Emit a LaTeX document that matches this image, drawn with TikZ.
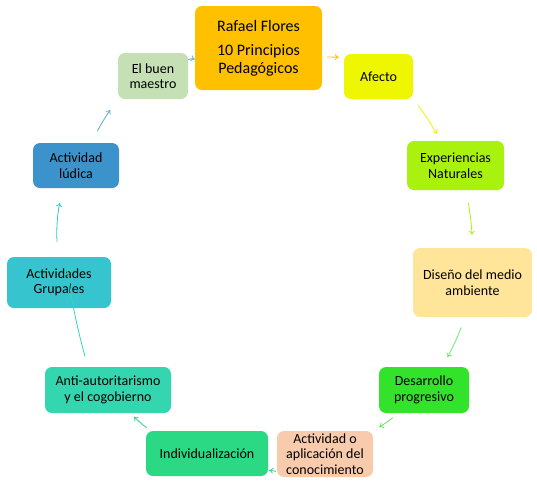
\documentclass[tikz,border=0pt]{standalone}
\usepackage{fontspec}
\setmainfont{Carlito}
\usepackage{tikz}
\usetikzlibrary{arrows.meta, positioning}

\definecolor{cRafael}{RGB}{255,192,0}
\definecolor{cMaestro}{RGB}{197,224,180}
\definecolor{cAfecto}{RGB}{238,246,0}
\definecolor{cExper}{RGB}{169,242,15}
\definecolor{cDiseno}{RGB}{255,229,154}
\definecolor{cDesarrollo}{RGB}{51,226,43}
\definecolor{cAplic}{RGB}{248,203,173}
\definecolor{cIndiv}{RGB}{43,217,133}
\definecolor{cAnti}{RGB}{51,214,174}
\definecolor{cGrupal}{RGB}{54,197,206}
\definecolor{cLudica}{RGB}{60,146,202}

\begin{document}
\begin{tikzpicture}[x=1pt, y=-1pt,
            paso/.style={rounded corners=7pt, align=center, inner sep=2pt,
                    font=\fontsize{14}{15.5}\selectfont, text=black},
            arr/.style={-{To[length=4pt, width=6pt]}, line width=0.8pt},
            arrc/.style={arr, shorten >=#1, shorten <=#1}
        ]
        \useasboundingbox (0,0) rectangle (537,480);

        % ---------------------------------------------------------------
        % NODES
        % ---------------------------------------------------------------

        % Center title
        \node[paso, fill=cRafael, minimum width=127pt, minimum height=84pt,
              font=\fontsize{16}{18}\selectfont] (rafael) at (258.5,48)
            {Rafael Flores\\[6pt]10 Principios\\Pedagógicos};

        % Right side
        \node[paso, fill=cAfecto, minimum width=69pt, minimum height=45pt] (afecto) at (378.5,76.5) {Afecto};
        \node[paso, fill=cExper, minimum width=97pt, minimum height=49pt] (exper) at (455.5,165.5) {Experiencias\\Naturales};
        \node[paso, fill=cDiseno, minimum width=119pt, minimum height=69pt] (diseno) at (472.5,282.5) {Diseño del medio\\ambiente};
        \node[paso, fill=cDesarrollo, minimum width=90pt, minimum height=46pt] (desarrollo) at (424,390) {Desarrollo\\progresivo};

        % Bottom
        \node[paso, fill=cAplic, minimum width=96pt, minimum height=46pt, inner sep=0pt] (aplic) at (325,454) {Actividad o\\aplicación del\\conocimiento};
        \node[paso, fill=cIndiv, minimum width=122pt, minimum height=45pt] (indiv) at (207,453.5) {Individualización};

        % Left side
        \node[paso, fill=cAnti, minimum width=126pt, minimum height=46pt] (anti) at (108,390) {Anti-autoritarismo\\y el cogobierno};
        \node[paso, fill=cGrupal, minimum width=104pt, minimum height=51pt] (grupal) at (59,282.5) {Actividades\\Grupales};
        \node[paso, fill=cLudica, minimum width=86pt, minimum height=45pt] (ludica) at (76,165.5) {Actividad\\lúdica};
        \node[paso, fill=cMaestro, minimum width=70pt, minimum height=46pt] (maestro) at (153,76) {El buen\\maestro};

        % ---------------------------------------------------------------
        % ARROWS
        % ---------------------------------------------------------------
        \draw[arr, color=cLudica!80] (maestro.25) to[bend left=20] (rafael.190);
        \draw[arrc=5pt, color=cRafael] (rafael.-8) -- (afecto.151);
        \draw[arrc=8pt, color=cAfecto] (afecto.south east) to[bend left=4] (exper.121);
        \draw[arrc=13pt, color=cExper] (exper.-67) to[bend left=4] (diseno.north);
        \draw[arrc=11pt, color=cDesarrollo!70] (diseno.-102) to[bend left=4] (desarrollo.52);
        \draw[arrc=7pt, color=cDesarrollo!80] (desarrollo.-138) to[bend left=4] (aplic.north east);
        \draw[arrc=1pt, color=cIndiv] (aplic.-160) -- (indiv.-15);
        \draw[arrc=5pt, color=cIndiv] (indiv.158) to[bend left=4] (anti.-46);
        \draw[arrc=11pt, color=cAnti] (anti.131) to[bend left=4] (grupal.75);
        \draw[arrc=15pt, color=cGrupal] (grupal.92) to[bend left=8] (ludica.-120);
        \draw[arrc=13pt, color=cLudica!80] (ludica.56) to[bend left=4] (maestro.south west);

    \end{tikzpicture}
\end{document}
